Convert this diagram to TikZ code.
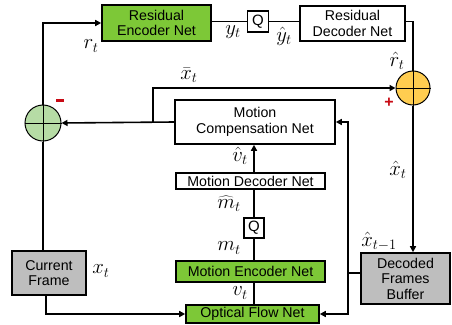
\documentclass[tikz,border=0pt]{standalone}
\usepackage{fontspec}
\setmainfont{Liberation Sans}
\usetikzlibrary{arrows.meta}
\definecolor{netgreen}{RGB}{125,200,55}
\definecolor{sumgreen}{RGB}{182,220,165}
\definecolor{sumorange}{RGB}{255,205,80}
\definecolor{boxgray}{RGB}{190,190,190}
\definecolor{signred}{RGB}{200,10,20}
\tikzset{
  box/.style={draw=black, line width=1.6pt, inner sep=0pt, align=center, font=\fontsize{14.2}{15.5}\selectfont},
  greenbox/.style={box, fill=netgreen},
  whitebox/.style={box, fill=white},
  graybox/.style={box, fill=boxgray},
  qbox/.style={box, fill=white, minimum width=21pt, minimum height=21pt, font=\fontsize{15}{16}\selectfont},
  sumnode/.style={circle, draw=black, line width=1pt, inner sep=0pt},
  conn/.style={line width=1.6pt},
  arr/.style={conn, -{Triangle[length=6pt,width=6pt]}},
  lbl/.style={inner sep=0pt, font=\fontsize{20}{22}\selectfont},
}
\begin{document}
\begin{tikzpicture}[x=1pt,y=-1pt]
\useasboundingbox (0,0) rectangle (452,324);
% boxes
\node[greenbox, minimum width=109pt, minimum height=36pt] (renc) at (156.5,23) {Residual\\Encoder Net};
\node[qbox] (q1) at (258,21.5) {Q};
\node[whitebox, minimum width=105pt, minimum height=35pt] (rdec) at (352.5,23.5) {Residual\\Decoder Net};
\node[whitebox, minimum width=160pt, minimum height=44pt] (mc) at (255,122) {Motion\\Compensation Net};
\node[whitebox, minimum width=149pt, minimum height=16pt] (mdec) at (250.5,181) {Motion Decoder Net};
\node[qbox, minimum width=20pt, minimum height=20pt] (q2) at (254,228) {Q};
\node[greenbox, minimum width=149pt, minimum height=21pt] (menc) at (250.5,271.5) {Motion Encoder Net};
\node[greenbox, minimum width=133pt, minimum height=18pt] (ofn) at (252.5,314) {Optical Flow Net};
\node[graybox, minimum width=74pt, minimum height=44pt] (cur) at (49,273) {Current\\Frame};
\node[graybox, minimum width=89pt, minimum height=51pt] (dfb) at (405.5,278.5) {Decoded\\Frames\\Buffer};
% sum circles
\node[sumnode, fill=sumorange, minimum size=34pt] (sumo) at (413,88) {};
\draw[line width=1pt] (sumo.north) -- (sumo.south) (sumo.west) -- (sumo.east);
\node[sumnode, fill=sumgreen, minimum size=36pt] (sumg) at (43,123) {};
\draw[line width=1pt] (sumg.north) -- (sumg.south) (sumg.west) -- (sumg.east);
% coordinates
\coordinate (br) at (153,122);
\coordinate (rb) at (348,273);
% connectors
\draw[conn] (sumg.south) -- (sumg |- cur.north);
\draw[arr] (sumg.north) |- (renc.west);
\draw[conn] (renc.east |- q1.west) -- (q1.west);
\draw[conn] (q1.east) -- (q1.east -| rdec.west);
\draw[conn] (rdec.north east |- q1.east) -| (sumo.north);
\draw[arr] (sumo.south) -- (sumo |- dfb.north);
\draw[arr] (mc.west) -- (sumg.east);
\draw[arr] (br) |- (sumo.west);
\draw[conn] (ofn.north -| q2) -- (menc.south -| q2);
\draw[conn] (menc.north -| q2) -- (q2.south);
\draw[conn] (q2.north) -- (mdec.south -| q2);
\draw[arr] (mdec.north -| q2) -- (mc.south -| q2);
\draw[arr] ([xshift=-3pt]cur.south) |- (ofn.west);
\draw[conn] (rb -| dfb.west) -- (rb);
\draw[arr] (rb) |- (mc.east);
\draw[arr] (rb) |- (ofn.east);
% labels
\node[lbl] (lrt) at (91,46) {$r_t$};
\node[lbl] (lyt) at (233,32) {$y_t$};
\node[lbl] (lyht) at (284,36) {$\hat{y}_t$};
\node[lbl] (lrht) at (397,61) {$\hat{r}_t$};
\node[lbl] (lxbar) at (189,75) {$\bar{x}_t$};
\node[lbl] (lxht) at (398,170) {$\hat{x}_t$};
\node[lbl] (lvht) at (240,156) {$\hat{v}_t$};
\node[lbl] (lmht) at (229,204) {$\widehat{m}_t$};
\node[lbl] (lmt) at (229,248) {$m_t$};
\node[lbl] (lvt) at (240,293) {$v_t$};
\node[lbl] (lxt) at (101,271) {$x_t$};
\node[lbl] (lxhp) at (379,241) {$\hat{x}_{t-1}$};
\node[inner sep=0pt, text=signred, font=\fontsize{16}{16}\selectfont\bfseries] (plus) at (389,103) {+};
\node[fill=signred, inner sep=0pt, minimum width=8pt, minimum height=3pt] (minus) at (60,100) {};
\end{tikzpicture}
\end{document}
